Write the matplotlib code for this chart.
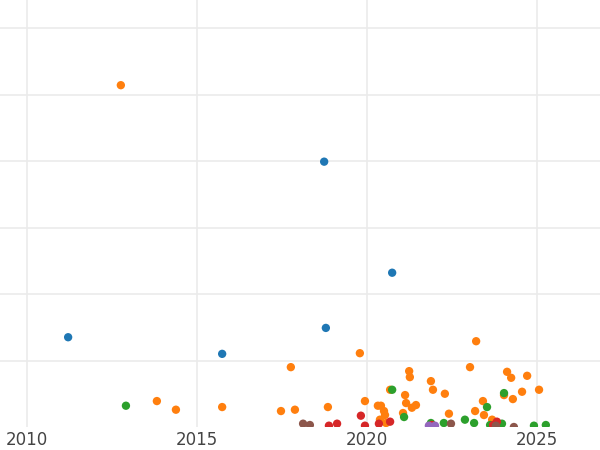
import matplotlib
matplotlib.use("Agg")
import matplotlib.pyplot as plt

blue_x=[2011.21,2015.74,2018.74,2018.79,2020.74]
blue_y=[1.35,1.10,3.99,1.49,2.32]
orange_x=[2012.76,2013.82,2014.38,2015.74,2017.47,2017.76,2017.88,2018.85,2019.79,2019.94,2020.32,2020.41,2020.50,2020.53,2020.68,2021.06,2021.12,2021.15,2021.24,2021.26,2021.32,2021.44,2021.88,2021.94,2022.29,2022.41,2023.03,2023.21,2023.18,2023.41,2023.44,2023.68,2023.76,2024.03,2024.12,2024.24,2024.29,2024.56,2024.71,2025.06,2020.56,2020.38]
orange_y=[5.14,0.39,0.26,0.30,0.24,0.90,0.26,0.30,1.11,0.39,0.32,0.32,0.24,0.18,0.56,0.21,0.48,0.36,0.84,0.75,0.29,0.33,0.69,0.56,0.50,0.20,0.90,1.29,0.24,0.39,0.18,0.11,0.06,0.48,0.83,0.74,0.42,0.53,0.77,0.56,0.06,0.11]
green_x=[2012.91,2020.74,2021.09,2021.88,2022.26,2022.88,2023.15,2023.53,2023.62,2023.97,2024.03,2024.91,2025.26]
green_y=[0.32,0.56,0.15,0.06,0.06,0.11,0.06,0.30,0.03,0.05,0.51,0.02,0.03]
red_x=[2018.88,2019.12,2019.82,2019.94,2020.35,2020.68,2021.91,2023.71,2023.82]
red_y=[0.02,0.05,0.17,0.02,0.05,0.08,0.03,0.03,0.08]
purple_x=[2021.82,2022.0]
purple_y=[0.02,0.02]
brown_x=[2018.12,2018.32,2022.47,2024.32,2023.79]
brown_y=[0.05,0.03,0.05,0.0,0.02]

series=[(blue_x,blue_y,'#1f77b4'),(orange_x,orange_y,'#ff7f0e'),(green_x,green_y,'#2ca02c'),
        (red_x,red_y,'#d62728'),(purple_x,purple_y,'#9467bd'),(brown_x,brown_y,'#8c564b')]

fig=plt.figure(figsize=(6,4.5),dpi=100)
ax=fig.add_axes([0,23/450,1,427/450])
for x,y,c in series:
    ax.scatter(x,y,s=36,color=c,edgecolors='none',zorder=3)
ax.set_xlim(2010-27/34,2010+573/34)
ax.set_ylim(0,427/66.5)
ax.set_xticks([2010,2015,2020,2025])
ax.set_yticks([1,2,3,4,5,6])
ax.set_yticklabels([])
ax.grid(True,color='#ebebeb',linewidth=1.2,zorder=0)
ax.set_axisbelow(True)
for s in ax.spines.values(): s.set_visible(False)
ax.tick_params(length=0,labelsize=12,labelcolor='#444444',pad=3)
fig.savefig('out.png',dpi=100)
